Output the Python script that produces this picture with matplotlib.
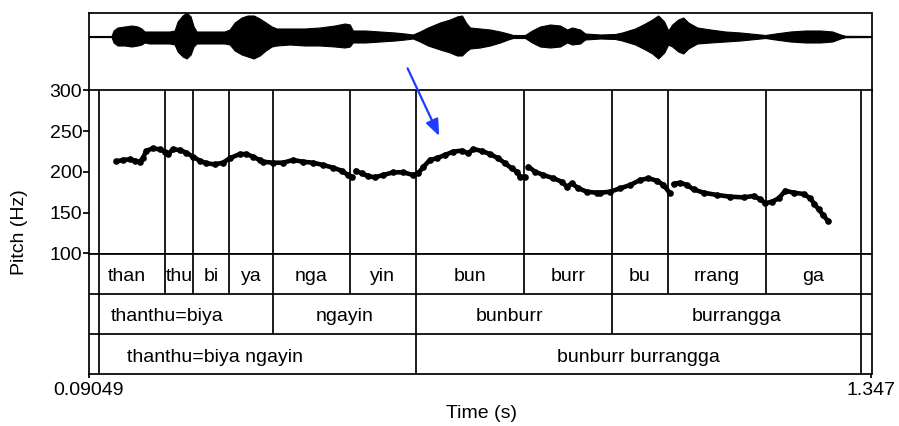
import numpy as np
import matplotlib
matplotlib.use("Agg")
import matplotlib.pyplot as plt
from matplotlib import transforms

plt.rcParams['font.family'] = ['Liberation Sans', 'DejaVu Sans']

# ---------------- data ----------------
t_start = 0.09049
t_end = 1.347
x_tick_values = [0.09049, 1.347]
x_tick_labels = ['0.09049', '1.347']
y_tick_values = [100, 150, 200, 250, 300]
pitch_min, pitch_max = 100, 300

# waveform envelope (time s, upper amplitude, lower amplitude; arbitrary units)
wave_t = [0.0905, 0.1274, 0.1307, 0.1371, 0.1483, 0.1596, 0.1692, 0.1756, 0.1805, 0.1885,
          0.2046, 0.2206, 0.2287, 0.2335, 0.2415, 0.2480, 0.2544, 0.2592, 0.2640, 0.2849,
          0.3090, 0.3170, 0.3251, 0.3363, 0.3460, 0.3556, 0.3652, 0.3749, 0.3845, 0.3926,
          0.4134, 0.4375, 0.4616, 0.4857, 0.5018, 0.5098, 0.5147, 0.5339, 0.5580, 0.5822,
          0.5982, 0.6111, 0.6223, 0.6352, 0.6545, 0.6705, 0.6818, 0.6898, 0.6962, 0.7027,
          0.7187, 0.7348, 0.7509, 0.7637, 0.7717, 0.7910, 0.8023, 0.8151, 0.8312, 0.8473,
          0.8585, 0.8665, 0.8794, 0.8874, 0.9115, 0.9356, 0.9469, 0.9678, 0.9838, 0.9951,
          1.0047, 1.0143, 1.0208, 1.0272, 1.0368, 1.0449, 1.0529, 1.0674, 1.0883, 1.1124,
          1.1365, 1.1606, 1.1766, 1.1927, 1.2168, 1.2409, 1.2650, 1.2843, 1.2971, 1.3052,
          1.347]
wave_up = [0.5, 0.5, 6, 9, 10, 11, 10, 8, 5, 5,
           5, 5, 6, 15, 21, 24, 20, 10, 5, 5,
           5, 7, 14, 19, 21, 21, 18, 14, 10, 8,
           8, 8, 9, 11, 13, 12, 6, 6, 5, 4,
           3, 2, 5, 9, 14, 17, 20, 21, 14, 9,
           8, 7, 5, 3, 1.5, 1.5, 6, 10, 12, 11,
           7, 9, 7, 3, 2, 2.5, 4, 8, 13, 17,
           21, 15, 6, 12, 17, 19, 14, 9, 7, 5,
           4, 2.5, 1.5, 3, 5, 6, 6, 5, 2, 0.7,
           0.5]
wave_lo = [0.5, 0.5, 6, 9, 9, 10, 9, 8, 6, 7,
           7, 7, 8, 15, 20, 22, 18, 10, 7, 7,
           7, 8, 14, 18, 20, 22, 19, 14, 10, 9,
           8, 9, 9, 10, 11, 10, 6, 6, 5, 4,
           3, 2, 5, 9, 13, 16, 19, 19, 15, 12,
           11, 9, 6, 3, 1.5, 1.5, 6, 10, 11, 10,
           6, 8, 7, 3, 2, 2.5, 4, 8, 13, 17,
           22, 16, 8, 10, 15, 17, 12, 7, 6, 5,
           4, 2.5, 1.5, 3, 5, 6, 6, 5, 2, 0.7,
           0.5]

# pitch track (time s, Hz)
pitch_t = [0.1350, 0.1456, 0.1564, 0.1644, 0.1724, 0.1777, 0.1832, 0.1938, 0.2046, 0.2126,
           0.2179, 0.2259, 0.2367, 0.2475, 0.2581, 0.2688, 0.2796, 0.2929, 0.3063, 0.3170,
           0.3331, 0.3439, 0.3545, 0.3652, 0.3706, 0.3866, 0.4027, 0.4187, 0.4348, 0.4509,
           0.4669, 0.4830, 0.4965, 0.5071, 0.5126,
           0.5195, 0.5286, 0.5392, 0.5500, 0.5634, 0.5794, 0.5955, 0.6116, 0.6196, 0.6276,
           0.6384, 0.6491, 0.6625, 0.6758, 0.6893, 0.6999, 0.7080, 0.7215, 0.7348, 0.7481,
           0.7589, 0.7696, 0.7777, 0.7830, 0.7910,
           0.7963, 0.8071, 0.8204, 0.8365, 0.8500, 0.8580, 0.8661, 0.8766, 0.8902, 0.9062,
           0.9115, 0.9276, 0.9437, 0.9597, 0.9758, 0.9891, 1.0026, 1.0132, 1.0229,
           1.0293, 1.0401, 1.0508, 1.0614, 1.0775, 1.0990, 1.1204, 1.1418, 1.1578, 1.1686,
           1.1766, 1.1874, 1.1980, 1.2088, 1.2221, 1.2382, 1.2489, 1.2553, 1.2623, 1.2693,
           1.2767]
pitch_hz = [213.0, 214.7, 215.6, 214.0, 212.6, 216.8, 226.0, 229.0, 227.8, 225.0,
            222.0, 227.8, 227.0, 223.7, 218.8, 213.9, 210.7, 209.4, 211.4, 216.8,
            222.0, 222.0, 218.8, 214.7, 212.6, 211.4, 211.4, 214.7, 212.6, 211.4,
            208.6, 205.3, 201.6, 196.3, 194.2,
            201.6, 198.4, 195.0, 193.5, 196.3, 199.6, 199.6, 196.3, 198.4, 206.0,
            214.7, 216.8, 220.9, 225.0, 226.2, 223.0, 228.2, 225.8, 222.0, 216.8,
            210.7, 204.5, 200.4, 194.2, 194.2,
            206.5, 200.4, 196.3, 192.3, 188.1, 182.0, 186.1, 180.0, 175.8, 174.6,
            174.6, 175.8, 180.0, 184.0, 190.2, 192.3, 189.3, 184.0, 174.6,
            185.3, 186.9, 184.0, 178.7, 174.6, 171.8, 169.7, 168.9, 170.6, 166.5,
            161.6, 163.6, 167.7, 177.0, 174.6, 173.0, 167.7, 160.7, 154.2, 147.2,
            140.2]
# voicing breaks (pitch track is interrupted between these times)
pitch_breaks = [0.516, 0.794, 1.026]

# TextGrid tiers
tier1_bounds = [0.1066, 0.2137, 0.2581, 0.3159, 0.3866, 0.5098, 0.6154, 0.7894, 0.9308,
                1.0203, 1.1778, 1.3304]
tier1_labels = ['than', 'thu', 'bi', 'ya', 'nga', 'yin', 'bun', 'burr', 'bu', 'rrang', 'ga']
tier2_bounds = [0.1066, 0.3866, 0.6154, 0.9308, 1.3304]
tier2_labels = ['thanthu=biya', 'ngayin', 'bunburr', 'burrangga']
tier3_bounds = [0.1066, 0.6154, 1.3304]
tier3_labels = ['thanthu=biya ngayin', 'bunburr burrangga']

# annotation arrow (time s, Hz)
arrow_from = (0.6026, 327.2)
arrow_to = (0.6533, 244.2)

# ---------------- layout ----------------
W, H = 899, 426
fig = plt.figure(figsize=(W / 100, H / 100), dpi=100)

def rect(x0, y0, x1, y1):
    return [x0 / W, 1 - y1 / H, (x1 - x0) / W, (y1 - y0) / H]

XL, XR = 88.5, 871.5
ax_w = fig.add_axes(rect(XL, 12.5, XR, 90.5))
ax_p = fig.add_axes(rect(XL, 90.5, XR, 253.5))
ax_t = fig.add_axes(rect(XL, 253.5, XR, 374.0))

LW = 1.25
FS = 14

# waveform
ax_w.axhline(0, color='#555555', lw=0.8, zorder=1)
ax_w.fill_between(wave_t, wave_up, [-v for v in wave_lo], color='black', lw=0.8, zorder=2)
ax_w.set_xlim(t_start, t_end)
ax_w.set_ylim(-54, 24)
ax_w.set_xticks([])
ax_w.set_yticks([])
for s in ax_w.spines.values():
    s.set_linewidth(LW)

# pitch
pt = list(pitch_t)
ph = list(pitch_hz)
for b in sorted(pitch_breaks, reverse=True):
    i = int(np.searchsorted(pt, b))
    pt.insert(i, b)
    ph.insert(i, np.nan)
ax_p.plot(pt, ph, color='black', lw=3.3, solid_capstyle='round',
          solid_joinstyle='round', zorder=3)
ax_p.plot(pitch_t, pitch_hz, 'o', color='black', ms=4.8, mew=0, zorder=3)
ax_p.set_xlim(t_start, t_end)
ax_p.set_ylim(pitch_min, pitch_max)
ax_p.set_xticks([])
ax_p.set_yticks(y_tick_values)
ax_p.set_yticklabels([str(v) for v in y_tick_values])
ax_p.tick_params(axis='y', length=4, width=LW, pad=0.5, labelsize=FS, color='black')
for s in ax_p.spines.values():
    s.set_linewidth(LW)

# tiers
tiers = [(tier1_bounds, tier1_labels), (tier2_bounds, tier2_labels), (tier3_bounds, tier3_labels)]
ax_t.set_xlim(t_start, t_end)
ax_t.set_ylim(3, 0)
ax_t.set_yticks([])
ax_t.set_xticks(x_tick_values)
ax_t.set_xticklabels(x_tick_labels)
ax_t.tick_params(axis='x', length=3, width=LW, pad=2.5, labelsize=FS)
for s in ax_t.spines.values():
    s.set_linewidth(LW)
ax_t.axhline(1, color='black', lw=LW)
ax_t.axhline(2, color='black', lw=LW)

depth = {}
for k, (bounds, _) in enumerate(tiers):
    for b in bounds:
        depth[b] = k + 1
for b, d in depth.items():
    ax_p.axvline(b, color='black', lw=LW, zorder=2)
    ax_t.vlines(b, 0, d, color='black', lw=LW)

# label offsets (pixels) for labels not centred in their interval
label_shift = {'than': -5, 'thanthu=biya': -19, 'thanthu=biya ngayin': -42, 'bunburr': -4}
for k, (bounds, labels) in enumerate(tiers):
    for i, lab in enumerate(labels):
        c = 0.5 * (bounds[i] + bounds[i + 1])
        tr = transforms.offset_copy(ax_t.transData, fig=fig,
                                    x=label_shift.get(lab, 0), y=0, units='dots')
        ax_t.text(c, k + 0.69, lab, ha='center', va='baseline', fontsize=FS,
                  transform=tr)

# arrow
ax_p.annotate('', xy=arrow_to, xytext=arrow_from, annotation_clip=False,
              arrowprops=dict(arrowstyle='-|>,head_length=0.55,head_width=0.22',
                              color='#1f3bff', lw=1.6, mutation_scale=18,
                              shrinkA=0, shrinkB=0), zorder=6)

# axis titles
fig.text(20 / W, 1 - 232 / H, 'Pitch (Hz)', rotation=90, ha='center', va='center', fontsize=FS)
fig.text(481 / W, 1 - 414 / H, 'Time (s)', ha='center', va='center', fontsize=FS)

fig.savefig('out.png', dpi=100)
